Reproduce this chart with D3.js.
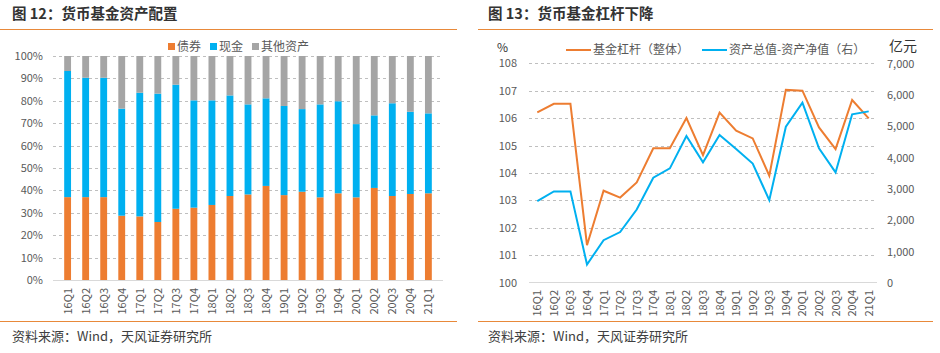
<!DOCTYPE html>
<html lang="zh">
<head>
<meta charset="utf-8">
<title>货币基金</title>
<script src="https://d3js.org/d3.v7.min.js"></script>
<style>
  body { margin: 0; background: #fff; }
  text { font-family: "Noto Sans CJK SC", "Noto Sans", sans-serif; }
</style>
</head>
<body>
<script>
// 季度
var quarters = ["16Q1","16Q2","16Q3","16Q4","17Q1","17Q2","17Q3","17Q4","18Q1","18Q2","18Q3",
                "18Q4","19Q1","19Q2","19Q3","19Q4","20Q1","20Q2","20Q3","20Q4","21Q1"];

// 图12 资产配置 (%)
var bondShare  = [37.0,37.0,37.0,28.7,28.4,25.9,31.8,32.3,33.5,37.5,38.2,42.0,37.9,39.4,36.9,38.7,36.9,41.1,37.5,38.4,38.7];
var cashShare  = [56.3,53.3,53.3,47.8,55.2,57.3,55.4,47.9,46.7,44.9,40.2,39.1,39.8,36.9,41.5,41.1,32.7,32.4,41.4,36.7,35.7];
var otherShare = [6.7,9.7,9.7,23.5,16.4,16.8,12.8,19.8,19.8,17.6,21.6,18.9,22.3,23.7,21.6,20.2,30.4,26.5,21.1,24.9,25.6];
var pctTicks = [0,10,20,30,40,50,60,70,80,90,100];

// 图13 杠杆
var leverage = [106.21,106.52,106.52,101.36,103.35,103.1,103.65,104.9,104.9,106.0,104.65,
                106.2,105.54,105.26,103.9,107.03,107.0,105.66,104.87,106.66,105.99];
var debtGap  = [2600,2910,2910,575,1350,1610,2330,3345,3645,4680,3836,
                4710,4260,3800,2630,4975,5745,4285,3515,5370,5465];
var levTicks = [100,101,102,103,104,105,106,107,108];
var gapTicks = [0,1000,2000,3000,4000,5000,6000,7000];

var w = 940, h = 353;
var orange = "#ED7D31", blue = "#00B0F0", gray = "#A5A5A5", txt = "#595959";

var svg = d3.select("body").append("svg").attr("width", w).attr("height", h);

// 标题和边框线
function frame(x0, x1, title, tx) {
  svg.append("text").attr("x", tx).attr("y", 19).attr("font-size", 14.5).attr("font-weight", "bold")
     .attr("fill", "#333").text(title);
  svg.append("line").attr("x1", x0).attr("x2", x1).attr("y1", 29.5).attr("y2", 29.5)
     .attr("stroke", "#E8893A").attr("stroke-width", 1.2);
  svg.append("line").attr("x1", x0).attr("x2", x1).attr("y1", 321.5).attr("y2", 321.5)
     .attr("stroke", "#E8893A").attr("stroke-width", 1.2);
  svg.append("text").attr("x", tx).attr("y", 341).attr("font-size", 13).attr("fill", "#404040")
     .text("资料来源：Wind，天风证券研究所");
}
frame(0, 457, "图 12：货币基金资产配置", 12);
frame(478, 933, "图 13：货币基金杠杆下降", 488);

// ---------- 图12 ----------
var x1 = d3.scaleBand().domain(quarters).range([53, 443]).padding(0.62);
var y1 = d3.scaleLinear().domain([0, 100]).range([280, 56]);

var g1 = svg.append("g");
g1.selectAll("line.grid").data(pctTicks.slice(1)).enter().append("line")
  .attr("x1", 53).attr("x2", 443)
  .attr("y1", function(d){ return Math.round(y1(d)) + 0.5; })
  .attr("y2", function(d){ return Math.round(y1(d)) + 0.5; })
  .attr("stroke", "#BFBFBF").attr("stroke-dasharray", "3,3");

var stackData = quarters.map(function(q, i){
  return {q: q, bond: bondShare[i], cash: cashShare[i], other: otherShare[i]};
});
var stack = d3.stack().keys(["bond","cash","other"]);
var colors1 = {bond: orange, cash: blue, other: gray};
stack(stackData).forEach(function(layer){
  g1.selectAll(null).data(layer).enter().append("rect")
    .attr("x", function(d){ return x1(d.data.q); })
    .attr("width", x1.bandwidth())
    .attr("y", function(d){ return y1(d[1]); })
    .attr("height", function(d){ return y1(d[0]) - y1(d[1]); })
    .attr("fill", colors1[layer.key]);
});
g1.append("line").attr("x1", 53).attr("x2", 443).attr("y1", 280.5).attr("y2", 280.5)
  .attr("stroke", "#D9D9D9");

g1.selectAll("text.yt").data(pctTicks).enter().append("text")
  .attr("x", 43).attr("y", function(d){ return y1(d) + 4; })
  .attr("text-anchor", "end").attr("font-size", 11).attr("fill", txt)
  .text(function(d){ return d + "%"; });

g1.selectAll("text.xt").data(quarters).enter().append("text")
  .attr("transform", function(d){ return "translate(" + (x1(d) + x1.bandwidth()/2 + 4) + ",288) rotate(-90)"; })
  .attr("text-anchor", "end").attr("font-size", 11).attr("fill", txt)
  .text(function(d){ return d; });

// 图例
var legend1 = [["债券", orange, 168], ["现金", blue, 210], ["其他资产", gray, 252]];
legend1.forEach(function(l){
  g1.append("rect").attr("x", l[2]).attr("y", 43).attr("width", 7).attr("height", 7).attr("fill", l[1]);
  g1.append("text").attr("x", l[2] + 9).attr("y", 51).attr("font-size", 12).attr("fill", txt).text(l[0]);
});

// ---------- 图13 ----------
var x2 = d3.scaleBand().domain(quarters).range([529, 877]);
var yL = d3.scaleLinear().domain([100, 108]).range([282.5, 63.3]);
var yR = d3.scaleLinear().domain([0, 7000]).range([282.5, 63.3]);
var cx = function(q){ return x2(q) + x2.bandwidth()/2; };

var g2 = svg.append("g");
g2.selectAll("line.grid").data(levTicks.slice(1)).enter().append("line")
  .attr("x1", 529).attr("x2", 877)
  .attr("y1", function(d){ return Math.round(yL(d)) + 0.5; })
  .attr("y2", function(d){ return Math.round(yL(d)) + 0.5; })
  .attr("stroke", "#BFBFBF").attr("stroke-dasharray", "3,3");
g2.append("line").attr("x1", 529).attr("x2", 877).attr("y1", 282.5).attr("y2", 282.5)
  .attr("stroke", "#D9D9D9");

g2.selectAll("text.yl").data(levTicks).enter().append("text")
  .attr("x", 517).attr("y", function(d){ return yL(d) + 4; })
  .attr("text-anchor", "end").attr("font-size", 11).attr("fill", txt).text(function(d){ return d; });
g2.selectAll("text.yr").data(gapTicks).enter().append("text")
  .attr("x", 887).attr("y", function(d){ return yR(d) + 4.5; })
  .attr("font-size", 11).attr("fill", txt).text(d3.format(","));

g2.append("text").attr("x", 497).attr("y", 52).attr("font-size", 12).attr("fill", "#333").text("%");
g2.append("text").attr("x", 889).attr("y", 51).attr("font-size", 14).attr("fill", "#333").text("亿元");

g2.selectAll("text.xt").data(quarters).enter().append("text")
  .attr("transform", function(d){ return "translate(" + (cx(d) + 4) + ",290) rotate(-90)"; })
  .attr("text-anchor", "end").attr("font-size", 11).attr("fill", txt).text(function(d){ return d; });

var lineL = d3.line().x(function(d, i){ return cx(quarters[i]); }).y(function(d){ return yL(d); });
var lineR = d3.line().x(function(d, i){ return cx(quarters[i]); }).y(function(d){ return yR(d); });
g2.append("path").attr("d", lineL(leverage)).attr("fill", "none").attr("stroke", orange).attr("stroke-width", 2);
g2.append("path").attr("d", lineR(debtGap)).attr("fill", "none").attr("stroke", blue).attr("stroke-width", 2);

var legend2 = [["基金杠杆（整体）", orange, 566], ["资产总值-资产净值（右）", blue, 702]];
legend2.forEach(function(l){
  g2.append("line").attr("x1", l[2]).attr("x2", l[2] + 25).attr("y1", 50).attr("y2", 50)
    .attr("stroke", l[1]).attr("stroke-width", 2);
  g2.append("text").attr("x", l[2] + 27).attr("y", 54).attr("font-size", 12).attr("fill", txt).text(l[0]);
});
</script>
</body>
</html>
